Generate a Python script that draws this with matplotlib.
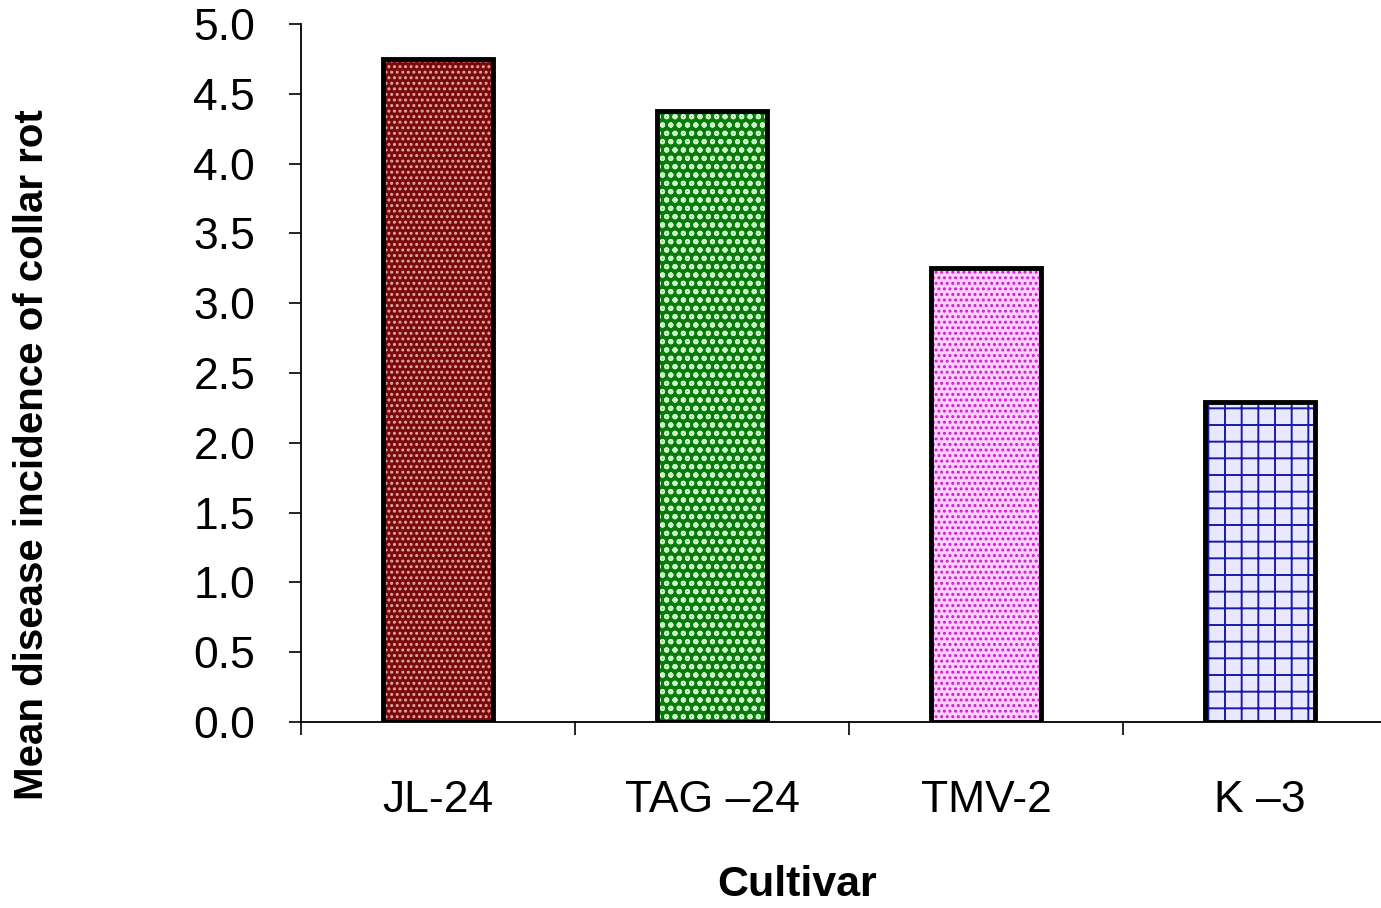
import matplotlib
matplotlib.use("Agg")
import matplotlib.pyplot as plt
import numpy as np

plt.rcParams['font.family'] = ['Liberation Sans', 'DejaVu Sans']

cultivars = ['JL-24', 'TAG \u201324', 'TMV-2', 'K \u20133']
incidence = [4.75, 4.38, 3.25, 2.29]

face_colors = ['#7a0a0a', '#0a7a0a', '#ffd0ff', '#e8e8ff']
hatch_colors = ['#e0a8a8', '#c8f5c8', '#c820c8', '#1a1aa8']
hatches = ['...', 'oo', '...', '+']

fig = plt.figure(figsize=(13.81, 9.08), dpi=100)
ax = fig.add_axes([301 / 1381, 1 - 722 / 908, (1397 - 301) / 1381, (722 - 24) / 908])

x = np.arange(len(cultivars))
plt.rcParams['hatch.linewidth'] = 1.4
for xi, v, fc, hc, h in zip(x, incidence, face_colors, hatch_colors, hatches):
    ax.bar(xi, v, width=0.405, color=fc, edgecolor=hc, hatch=h, linewidth=0, zorder=2)
    ax.bar(xi, v, width=0.405, fill=False, edgecolor='black', linewidth=3.5, zorder=3)

ax.set_xlim(-0.5, 3.5)
ax.set_ylim(0, 5)
ax.set_yticks(np.arange(0, 5.01, 0.5))
ax.set_yticklabels([f'{t:.1f}' for t in np.arange(0, 5.01, 0.5)])
ax.set_xticks(x)
ax.set_xticklabels(cultivars)
ax.set_xticks(np.arange(-0.5, 3.6, 1.0), minor=True)

ax.tick_params(axis='y', direction='out', length=9, width=1.2, pad=24, labelsize=32)
ax.tick_params(axis='x', which='major', length=0, pad=42, labelsize=32)
ax.tick_params(axis='x', which='minor', direction='out', length=9, width=1.2)

for s in ['top', 'right']:
    ax.spines[s].set_visible(False)
for s in ['left', 'bottom']:
    ax.spines[s].set_linewidth(1.3)

fig.text(797 / 1381, 1 - 885 / 908, 'Cultivar', ha='center', va='center',
         fontsize=31, fontweight='bold')
fig.text(32 / 1381, 1 - 455 / 908, 'Mean disease incidence of collar rot', ha='center',
         va='center', rotation=90, fontsize=29, fontweight='bold')

fig.savefig('out.png', dpi=100)
